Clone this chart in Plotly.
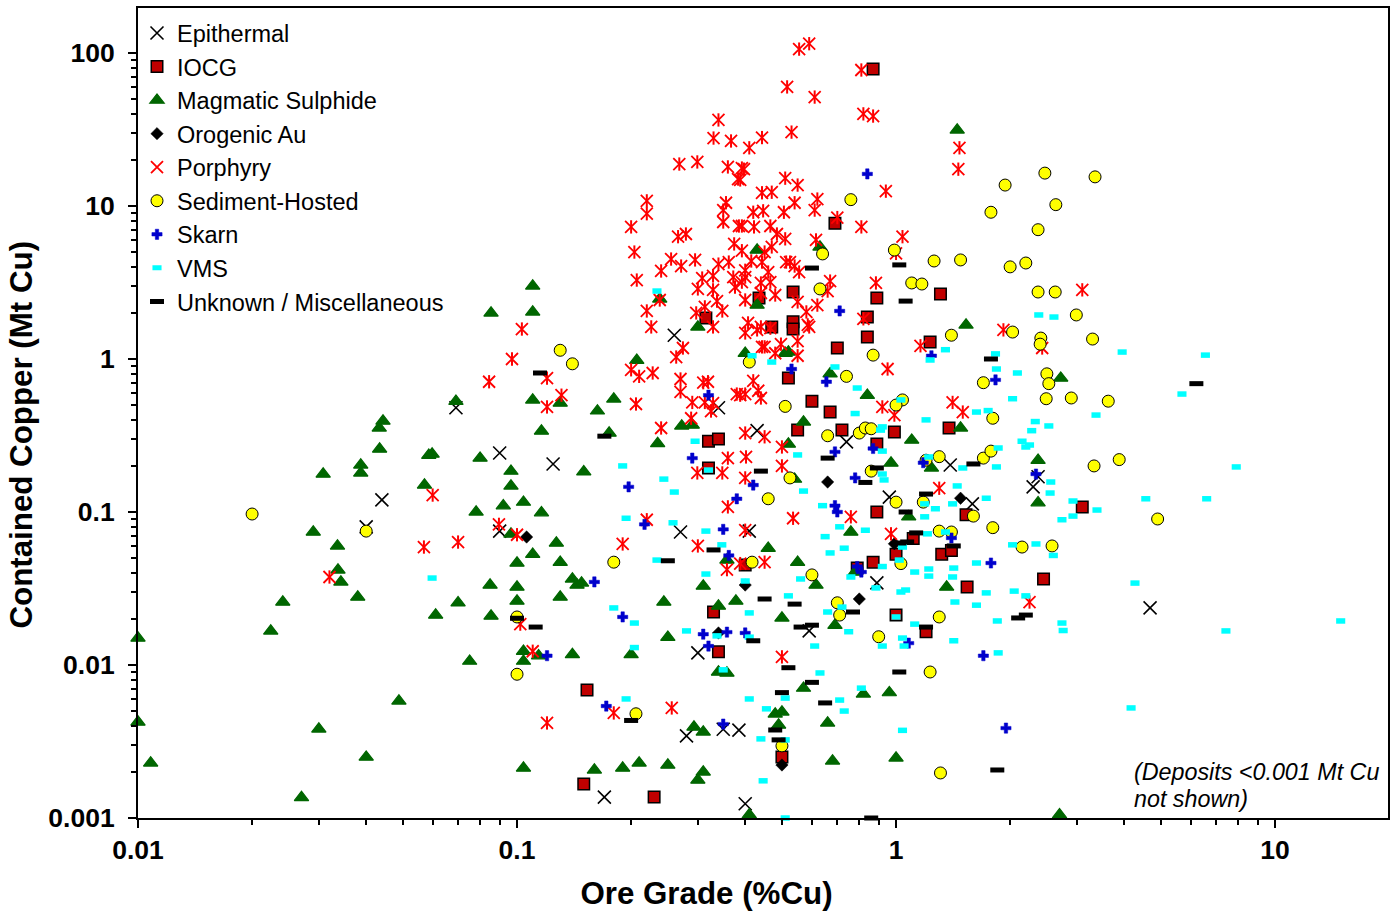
import plotly.graph_objects as go

epi_grade = [.069,.044,.04,.09,.09,.1245,.26,.34,.43,.27,.41,.74,1.39,.96,1.59,2.3,2.37,.89,.59,.30,.28,.35,.385,.17,.40,4.68]
epi_cu = [.48,.12,.08,.243,.075,.206,1.43,.48,.34,.074,.075,.287,.203,.125,.113,.146,.17,.0344,.0167,.012,.00344,.0038,.00375,.00137,.00124,.0236]

iocg_grade = [.87,.69,.535,.435,.89,1.31,.84,.535,.535,.47,.84,.70,1.23,.315,.52,.60,.67,.55,.72,.99,1.38,.89,.32,.34,.32,.89,1.53,3.1,1.11,1.0,1.32,1.4,.87,.79,.40,2.45,1.54,1.0,1.2,.33,.34,.153,.50,.15,.23]
iocg_cu = [78.6,7.7,2.74,2.5,2.5,2.66,1.88,1.75,1.57,1.62,1.39,1.18,1.29,1.85,.75,.53,.45,.343,.343,.333,.354,.278,.29,.30,.194,.1,.096,.108,.067,.053,.053,.056,.047,.043,.045,.0365,.0323,.0212,.0165,.0222,.0122,.00687,.0025,.00167,.00137]

mag_grade = [.01,.0224,.0241,.0343,.038,.061,.01,.0108,.03,.0488,.04,.027,.0443,.0433,.0434,.0597,.0585,.0387,.0387,.0308,.057,.029,.0336,.0337,.069,.11,.11,.0854,.13,.18,.163,.207,.175,.116,.235,.272,.29,.3,.0799,.0964,.0964,.15,.092,.104,.116,.078,.0964,.127,.11,.1,.13,.358,.14,.144,.148,.0849,.1,.0699,.1,.13,.0854,.31,.244,.378,.34,.25,.2,.14,.104,.104,.114,.075,.34,.358,.293,.31,.104,.16,.19,.21,.25,.31,.3,.41,.615,1.36,.69,.5,.57,.82,.96,.48,.5,.49,.66,.68,1.0,2.7,.40,.43,.43,.63,1.45,1.53,.51,.52,.67,.84,.57,.52,1.48,1.1,.97,1.24,.54,2.37,2.37,2.72,.46,.55,.76,1.08,.78,.238,.11]
mag_cu = [.015,.0167,.0258,.0349,.0278,.0212,.00424,.00229,.00382,.00582,.0025,.00136,.393,.354,.258,.239,.235,.203,.18,.177,.15,.074,.06,.0418,.53,.54,3.0,2.0,.515,.548,.458,.98,.328,.338,.28,.365,.37,1.62,.225,.185,.148,.183,.11,.116,.099,.1,.0718,.0627,.053,.0464,.047,.0485,.0365,.0333,.0344,.0333,.0323,.0255,.0262,.0278,.0209,.0328,.0258,.0262,.0243,.0152,.0117,.0117,.0123,.0106,.0115,.0106,.009,.00886,.00393,.00365,.00212,.00206,.00212,.00229,.00222,.002,.00177,.00105,.0333,.0323,.0182,.0203,.00706,.00647,.0066,.00479,.00493,.00405,.00418,.00236,.00247,.00105,1.09,5.15,2.25,5.4,31.4,1.67,1.09,1.11,.8,.58,.388,.278,.354,.295,.209,.194,.164,.218,.115,.75,.058,.047,.074,.093,.0405,2.47,2.03]

oro_grade = [.106,.66,.8,.40,.34,.5,1.48,.99]
oro_cu = [.0686,.157,.027,.0333,.0162,.00222,.123,.062]

por_grade = [.555,.59,.81,.516,.61,.82,.87,.53,.443,.41,1.47,1.46,.397,.388,.51,.55,.443,.47,.94,.62,.54,.61,.42,.446,.506,.7,.81,.392,.422,.466,.485,.51,.615,1.04,.47,.45,.392,.415,.443,.513,.525,.54,.555,.4,.46,.67,.66,.885,.44,.466,.4,.392,.48,.44,.4,.55,.62,.58,.407,.585,1.0,.82,.44,1.92,.34,.33,.367,.268,.299,.36,.392,.383,.22,.22,.356,.35,.35,.2,.385,.279,.266,.204,.374,.255,.295,.271,.24,.34,.362,.207,.308,.3,.329,.329,.372,.376,.337,.238,.22,.313,.297,.348,.226,.329,.103,.274,.263,.097,.0844,.12,.2,.21,.228,.27,.31,.319,.27,.29,.313,.329,.325,.131,.12,.206,.38,.288,.24,.36,.299,.348,.36,.22,.0699,.19,.3,.0896,.1,.358,.388,.4,.43,.466,.59,.55,.443,.45,.497,.48,.55,1.16,.95,.42,.4,.388,.433,.44,1.41,1.5,.92,.99,.4,.45,.5,.402,.5,.4,1.3,.535,.76,.97,.4,.45,3.1,2.43,2.25,.5,.102,.11,.12,.18,.256,.0599,.0568,.032]
por_cu = [106,115,77.4,60,51.5,40,38.7,30.4,28,24,24,17.4,17.4,14.8,15.2,13.7,12.2,12.3,12.5,11.1,10.5,9.4,9.1,9.3,9.1,8.4,7.3,7.4,7.3,7.4,6.56,6.1,6,6.3,5.4,5,5.1,4.37,4.3,4.3,4.3,4.05,3.7,3.8,3.7,3.23,2.78,3.14,3.14,3.18,3.43,3.18,2.62,2.7,2.43,2.36,2.25,2.03,1.72,1.67,4.9,1.83,1.62,1.55,36.5,27.8,26.6,18.8,19.4,18,17.7,15,10.8,8.9,10.5,9.4,7.86,7.3,7.4,6.56,6.3,5,5.65,4.5,4.44,4.05,3.76,4.17,4.3,3.28,3.38,2.87,3.49,2.83,3.43,2.95,2.39,2.43,2.06,2.19,2,2.06,1.62,1.62,1.57,1.18,1.03,1,.71,.75,.85,.77,.81,.74,.7,.71,.61,.52,.52,.515,.457,.58,.486,.508,.59,.41,.354,.225,.18,.18,.108,.089,.0636,.0618,.06,.083,.071,.042,.046,1.48,1.55,1.59,1.62,1.31,1.2,1.2,1.25,1.09,1.05,1.22,.86,.72,.59,.58,.62,.556,.52,.45,.486,.43,.328,.31,.266,.229,.2,.167,.143,.091,.093,.072,.076,.047,2.83,1.18,.0258,.0113,.0185,.0123,.00418,.00486,.00524,.129,.059,.0376]

sed_grade = [.02,.04,.13,.14,.18,.1,.1,.206,.76,1.94,1.78,2.37,.64,.99,1.26,1.48,2.0,2.2,.63,1.1,1.17,2.37,2.03,2.63,2.99,2.41,2.4,3.3,2.5,2.53,2.49,2.9,3.63,3.88,3.33,4.9,2.58,2.47,3.35,2.64,.41,1.4,.87,.74,.51,1.04,1.0,1.7,1.8,.66,.8,.83,.86,1.3,1.2,1.7,1.78,.86,.525,.46,1.0,1.18,1.6,1.8,1.3,1.4,2.15,1.03,.417,.6,.7,.71,.9,1.3,1.23,.5,1.31]
sed_cu = [.097,.075,1.14,.93,.047,.0206,.0087,.0048,11,13.7,9.1,7,4.86,5.15,4.37,4.44,4,4.24,2.87,3.14,3.09,2.74,1.5,2.74,1.94,1.37,1.25,1.35,.8,.69,.55,.556,.53,.22,.2,.09,.06,16.4,15.5,10.2,.955,1.43,1.06,.77,.49,.54,.5,.7,.41,.315,.328,.354,.35,.23,.218,.225,.25,.185,.167,.122,.116,.116,.094,.079,.075,.074,.059,.046,.047,.0388,.0255,.0212,.0153,.0206,.009,.00296,.00197]

skarn_grade = [.84,.71,.32,.29,.197,.217,.35,.38,.362,.16,.19,.358,.31,.32,.12,.172,.35,.53,.655,1.24,1.83,.69,.87,1.18,.42,.78,.69,.7,2.34,1.4,1.78,.79,.81,1.08,1.7,.4,1.95]
skarn_cu = [16.2,2.06,.58,.225,.146,.083,.077,.122,.052,.0349,.0206,.0164,.0159,.0133,.0115,.00539,.00411,.86,.71,1.05,.73,.247,.26,.21,.15,.167,.11,.1,.177,.0676,.0464,.044,.0405,.0139,.0115,.0162,.00387]

vms_grade = [.234,.295,.19,.244,.26,.194,.258,.315,.347,.234,.315,.32,.0597,.18,.204,.28,.337,.204,.35,.194,.417,.47,.69,.79,.78,.55,.92,.91,.92,1.03,1.2,1.22,1.35,1.23,1.83,1.84,2.09,2.03,1.75,1.63,2.33,2.28,2.15,2.2,2.25,1.86,1.5,1.84,.92,.93,1.45,.57,1.41,1.73,1.19,1.27,1.19,.64,.71,.83,.65,.73,.67,1.35,1.21,1.04,1.02,.92,1.12,1.22,1.22,1.42,1.41,1.63,2.03,2.34,.76,.56,.4,.52,.41,1.03,1.06,.885,1.73,1.43,1.63,2.05,2.2,1.85,1.86,1.42,1.12,1.0,1.04,1.05,.92,.66,.72,.75,.41,.61,.63,.81,.71,.73,.51,.455,.41,1.04,.44,.51,.446,.51,2.38,2.61,3.95,6.55,5.68,3.37,2.53,7.9,2.56,2.55,2.93,3.39,4.56,6.6,2.93,2.74,2.6,4.27,2.74,2.76,7.42,14.9,4.17]
vms_cu = [2.78,.29,.2,.164,.135,.091,.085,.075,.061,.0485,.0393,.188,.037,.0236,.0188,.0167,.0155,.013,.0093,.006,1.05,.955,.887,.646,.44,.236,.36,.343,.25,.54,.4,.229,1.15,.985,1.08,.86,.81,.55,.46,.45,.39,.34,.29,.266,.274,.262,.194,.197,.177,.162,.148,.137,.113,.123,.113,.105,.093,.11,.08,.076,.069,.058,.054,.074,.072,.059,.0485,.044,.0405,.0424,.0381,.043,.0376,.0464,.061,.0618,.0376,.0365,.0354,.0283,.0219,.03,.0309,.0319,.0296,.0258,.0246,.0304,.0283,.0194,.012,.0144,.0185,.0206,.015,.0133,.0133,.0222,.0239,.0165,.0152,.0133,.00887,.00706,.0059,.005,.00608,.00517,.006,.00374,.00329,.00324,.00175,.001,1.94,1.88,1.11,1.06,.59,.43,.365,.197,.157,.133,.118,.103,.122,.122,.094,.089,.052,.0343,.0188,.0168,.0167,.0194,.00524]

unk_grade = [.6,1.02,1.06,.115,.17,.33,.25,1.78,.44,.66,.83,.89,1.6,1.2,1.06,1.13,1.07,1.02,1.42,6.2,2.1,2.2,1.2,.45,.54,.77,.56,.6,.42,.52,1.02,.6,.5,.65,.48,.49,1.85,.86,.1,.112,.2]
unk_cu = [3.93,4.12,2.39,.81,.313,.0565,.048,1,.185,.225,.156,.194,.206,.131,.1,.073,.0637,.0627,.06,.69,.0203,.0212,.0177,.027,.025,.0222,.0177,.0182,.0144,.0096,.009,.0077,.0066,.00565,.00376,.00324,.00206,.001,.0202,.0177,.00434]

x_ticks = [0.01, 0.1, 1, 10]
x_labels = ["0.01", "0.1", "1", "10"]
y_ticks = [0.001, 0.01, 0.1, 1, 10, 100]
y_labels = ["0.001", "0.01", "0.1", "1", "10", "100"]

FONT = "Liberation Sans, Arial, sans-serif"
NB = "\u00a0"
fig = go.Figure()

def add(name, x, y, symbol, size, color, line_color, line_width, legend=True):
    fig.add_trace(go.Scatter(
        x=x, y=y, name=name, mode="markers", cliponaxis=False, showlegend=legend,
        legendgroup=name,
        marker=dict(symbol=symbol, size=size, color=color,
                    line=dict(color=line_color, width=line_width)),
    ))

add("Epithermal", epi_grade, epi_cu, "x-thin-open", 13, "black", "black", 1.6)
add("IOCG", iocg_grade, iocg_cu, "square", 11.5, "#C00000", "black", 1.5)
add("Magmatic Sulphide", mag_grade, mag_cu, "triangle-up", 12.5, "#006600", "#006600", 1.2)
add("Orogenic Au", oro_grade, oro_cu, "diamond", 9.5, "black", "black", 0.5)
add("Porphyry", por_grade, por_cu, "x-thin-open", 12, "red", "red", 1.8)
add("Porphyry", por_grade, por_cu, "line-ns-open", 9.5, "red", "red", 2, legend=False)
add("Sediment-Hosted", sed_grade, sed_cu, "circle", 12, "#FFFF00", "black", 1)
add("Skarn", skarn_grade, skarn_cu, "cross", 8.5, "#0000CC", "#0000CC", 0.5)
add("VMS", vms_grade, vms_cu, "line-ew-open", 6.5, "#00FFFF", "#00FFFF", 5.5)
add("Unknown / Miscellaneous", unk_grade, unk_cu, "line-ew-open", 10, "black", "black", 5)

axis_common = dict(
    type="log", showgrid=False, zeroline=False, showline=True, linecolor="black",
    linewidth=2, mirror=True, ticks="outside", ticklen=8, tickwidth=2, tickcolor="black",
    automargin=False,
    tickfont=dict(family=FONT, size=26.5, color="black", weight="bold"),
    minor=dict(ticks="outside", ticklen=5, tickwidth=1.5, tickcolor="black", dtick="D1", showgrid=False),
)

fig.update_layout(
    width=1397, height=912, autosize=False,
    margin=dict(l=138, r=9, t=8, b=94),
    paper_bgcolor="white", plot_bgcolor="white",
    font=dict(family=FONT, color="black"),
    showlegend=True,
    legend=dict(x=-0.0008, y=0.996, xanchor="left", yanchor="top", bgcolor="rgba(0,0,0,0)",
                font=dict(family=FONT, size=23.5, color="black"), itemclick=False, traceorder="normal"),
    xaxis=dict(axis_common, range=[-2, 1.298], tickvals=x_ticks, ticktext=x_labels,
               ticklabelstandoff=-1,
               title=dict(text="<b>Ore Grade (%Cu)" + NB * 13 + "</b>",
                          font=dict(family=FONT, size=31.3, color="black"), standoff=18)),
    yaxis=dict(axis_common, range=[-3, 2.294], tickvals=y_ticks, ticktext=y_labels,
               ticklabelstandoff=8,
               title=dict(text="<b>Contained Copper (Mt Cu)" + NB * 5 + "</b>",
                          font=dict(family=FONT, size=31.3, color="black"), standoff=6)),
    annotations=[
        dict(xref="paper", yref="paper", x=0.7952, y=0.0568, xanchor="left", yanchor="middle",
             align="left", showarrow=False, text="<i>(Deposits &lt;0.001 Mt Cu</i>",
             font=dict(family=FONT, size=23.3, color="black")),
        dict(xref="paper", yref="paper", x=0.7952, y=0.0235, xanchor="left", yanchor="middle",
             align="left", showarrow=False, text="<i>not shown)</i>",
             font=dict(family=FONT, size=23.3, color="black")),
    ],
)

fig.write_html("out.html", config=dict(displayModeBar=False), post_script="document.body.style.margin='0';")
